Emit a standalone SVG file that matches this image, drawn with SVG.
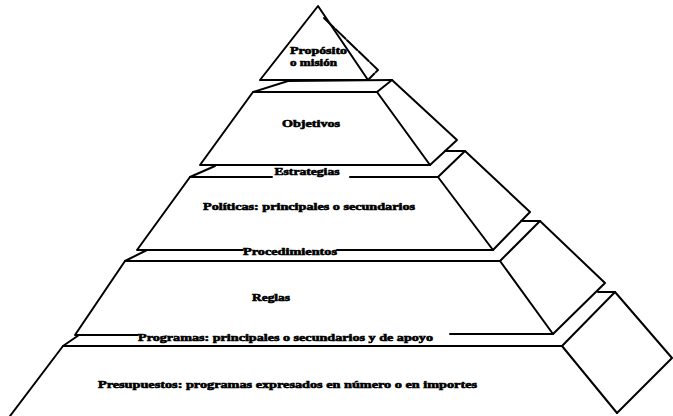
<svg xmlns="http://www.w3.org/2000/svg" width="673" height="416" viewBox="0 0 673 416">
  <style>
    .ln { fill: none; stroke: #000; stroke-width: 2; stroke-linejoin: round; stroke-linecap: round; }
    .lbl { font-family: "Liberation Serif", "Times New Roman", serif; font-weight: bold; font-size: 10.5px; fill: #000; stroke: #000; stroke-width: 0.6px; }
  </style>
  <rect width="673" height="416" fill="#fff"/>

  <!-- apex: purpose / mission -->
  <g id="proposito">
    <path class="ln" d="M318,6 L260,80 L368,80 Z"/>
    <path class="ln" d="M324,18 L378,70 L368,80" stroke-dasharray="14 2"/>
    <text class="lbl" x="290" y="54" textLength="57" lengthAdjust="spacingAndGlyphs">Propósito</text>
    <text class="lbl" x="290" y="66" textLength="47" lengthAdjust="spacingAndGlyphs">o misión</text>
  </g>

  <!-- tier 2: objectives -->
  <g id="objetivos">
    <path class="ln" d="M253,92 L288,81 L392,80"/>
    <path class="ln" d="M253,92 L377,92 L430,165 L200,165 Z"/>
    <path class="ln" d="M377,92 L392,80 L457,140 L430,165"/>
    <text class="lbl" x="311" y="127" text-anchor="middle" textLength="58" lengthAdjust="spacingAndGlyphs">Objetivos</text>
  </g>

  <!-- tier 3: strategies ledge + policies -->
  <g id="politicas">
    <path class="ln" d="M190,177 L215,166"/>
    <path class="ln" d="M445,151 L465,151"/>
    <path class="ln" d="M190,177 L272,177 M350,177 L438,177 L493,250 L337,250 M243,250 L137,250 L190,177"/>
    <path class="ln" d="M438,177 L465,151 L530,212 L493,250"/>
    <text class="lbl" x="307" y="175" text-anchor="middle" textLength="65" lengthAdjust="spacingAndGlyphs">Estrategias</text>
    <text class="lbl" x="309" y="210" text-anchor="middle" textLength="212" lengthAdjust="spacingAndGlyphs">Políticas: principales o secundarios</text>
  </g>

  <!-- tier 4: procedures ledge + rules -->
  <g id="reglas">
    <path class="ln" d="M125,261 L147,250"/>
    <path class="ln" d="M521,221 L540,221"/>
    <path class="ln" d="M125,261 L500,261 L553,334 L450,334 M138,335 L75,335 L125,261"/>
    <path class="ln" d="M500,261 L540,221 L605,283 L553,334"/>
    <text class="lbl" x="290" y="255" text-anchor="middle" textLength="94" lengthAdjust="spacingAndGlyphs">Procedimientos</text>
    <text class="lbl" x="271" y="301" text-anchor="middle" textLength="38" lengthAdjust="spacingAndGlyphs">Reglas</text>
  </g>

  <!-- tier 5: programs ledge + budgets -->
  <g id="presupuestos">
    <path class="ln" d="M63,346 L79,335"/>
    <path class="ln" d="M598,292 L615,292"/>
    <path class="ln" d="M10,416 L63,346 L562,346 L617,413"/>
    <path class="ln" d="M562,346 L615,292 L672,358 L617,413"/>
    <text class="lbl" x="138" y="341" textLength="295" lengthAdjust="spacingAndGlyphs">Programas: principales o secundarios y de apoyo</text>
    <text class="lbl" x="98" y="388" textLength="379" lengthAdjust="spacingAndGlyphs">Presupuestos: programas expresados en número o en importes</text>
  </g>
</svg>
